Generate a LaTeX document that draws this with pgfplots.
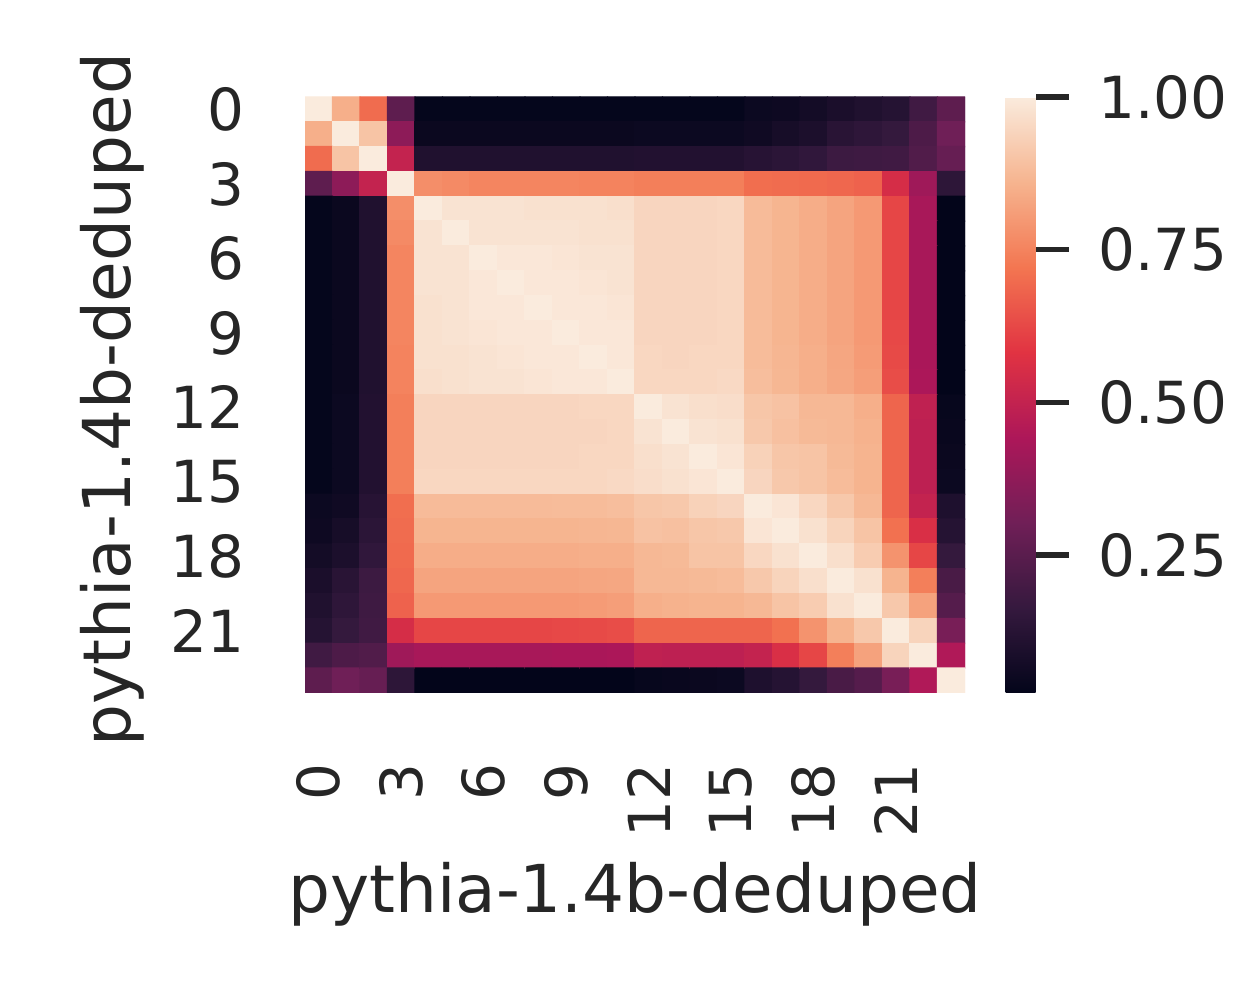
\documentclass[border=0pt]{standalone}
\usepackage{pgfplots}
\pgfplotsset{compat=1.18}
\usepackage{fontspec}
\setmainfont{DejaVu Sans}
\definecolor{txt}{HTML}{262626}
\pgfplotsset{colormap={rocket}{rgb255=(3,5,26) rgb255=(53,25,62) rgb255=(112,31,87) rgb255=(173,23,89) rgb255=(225,51,66) rgb255=(243,118,81) rgb255=(246,180,143) rgb255=(250,235,221)}}
\begin{document}
\begin{tikzpicture}
\path (0,0) rectangle (12.5cm,10cm);
\begin{axis}[
  at={(3.05cm,3.07cm)}, anchor=south west,
  scale only axis, width=6.6cm, height=5.96cm,
  xmin=-0.5, xmax=23.5, ymin=-0.5, ymax=23.5, y dir=reverse,
  enlargelimits=false,
  axis line style={draw=none},
  major tick length=0pt,
  xtick={0,3,...,21}, ytick={0,3,...,21},
  tick label style={font=\fontsize{16.5}{18}\selectfont, text=txt},
  /pgf/number format/assume math mode=true,
  xticklabel style={rotate=90, anchor=east, inner sep=0pt},
  yticklabel style={anchor=east, inner sep=0pt},
  xticklabel shift=0.7cm, yticklabel shift=0.6cm,
  xlabel={pythia-1.4b-deduped}, ylabel={pythia-1.4b-deduped},
  every axis x label/.style={at={(axis description cs:0.5,-0.2836)}, anchor=north, inner sep=0pt, font=\fontsize{18.8}{20}\selectfont, text=txt},
  every axis y label/.style={at={(axis description cs:-0.2424,0.492)}, anchor=south, rotate=90, inner sep=0pt, font=\fontsize{18.8}{20}\selectfont, text=txt},
  colormap name=rocket,
  point meta min=0.024, point meta max=1,
  colorbar,
  colorbar style={
    xshift=-0.06cm,
    scale only axis, width=0.3cm, height=5.96cm,
    axis line style={draw=none},
    ytick={0.25,0.5,0.75,1},
    ytick pos=right,
    yticklabel style={/pgf/number format/fixed, /pgf/number format/fixed zerofill, /pgf/number format/precision=2, anchor=west, inner sep=0pt},
    major tick length=0.33cm, tick align=outside,
    ytick style={line width=1.6pt, color=txt},
    yticklabel shift=0.29cm,
    tick label style={font=\fontsize{16.5}{18}\selectfont, text=txt},
    /pgf/number format/assume math mode=true,
  },
]
\addplot[matrix plot*, mesh/cols=24, point meta=explicit]
table[row sep=\\, x expr={\coordindex-24*floor((\coordindex+0.5)/24)}, y expr={floor((\coordindex+0.5)/24)}, meta=c] {
c\\
1\\ 0.85\\ 0.70\\ 0.26\\ 0.03\\ 0.03\\ 0.03\\ 0.03\\ 0.03\\ 0.03\\ 0.03\\ 0.03\\ 0.03\\ 0.03\\ 0.03\\ 0.03\\ 0.05\\ 0.055\\ 0.07\\ 0.09\\ 0.105\\ 0.12\\ 0.19\\ 0.26\\
0.85\\ 1\\ 0.90\\ 0.37\\ 0.045\\ 0.045\\ 0.045\\ 0.045\\ 0.045\\ 0.045\\ 0.045\\ 0.045\\ 0.05\\ 0.05\\ 0.05\\ 0.05\\ 0.06\\ 0.08\\ 0.095\\ 0.13\\ 0.145\\ 0.16\\ 0.22\\ 0.30\\
0.70\\ 0.90\\ 1\\ 0.50\\ 0.105\\ 0.105\\ 0.105\\ 0.105\\ 0.105\\ 0.105\\ 0.105\\ 0.105\\ 0.11\\ 0.11\\ 0.11\\ 0.11\\ 0.125\\ 0.135\\ 0.15\\ 0.18\\ 0.185\\ 0.19\\ 0.23\\ 0.28\\
0.26\\ 0.37\\ 0.50\\ 1\\ 0.775\\ 0.765\\ 0.755\\ 0.755\\ 0.755\\ 0.755\\ 0.75\\ 0.75\\ 0.74\\ 0.74\\ 0.74\\ 0.74\\ 0.705\\ 0.70\\ 0.695\\ 0.69\\ 0.68\\ 0.55\\ 0.41\\ 0.14\\
0.03\\ 0.045\\ 0.105\\ 0.775\\ 1\\ 0.98\\ 0.98\\ 0.98\\ 0.975\\ 0.975\\ 0.975\\ 0.97\\ 0.945\\ 0.945\\ 0.945\\ 0.95\\ 0.878\\ 0.862\\ 0.845\\ 0.825\\ 0.80\\ 0.62\\ 0.43\\ 0.025\\
0.03\\ 0.045\\ 0.105\\ 0.765\\ 0.98\\ 1\\ 0.98\\ 0.98\\ 0.98\\ 0.98\\ 0.975\\ 0.975\\ 0.945\\ 0.945\\ 0.945\\ 0.95\\ 0.878\\ 0.862\\ 0.845\\ 0.825\\ 0.80\\ 0.62\\ 0.43\\ 0.025\\
0.03\\ 0.045\\ 0.105\\ 0.755\\ 0.98\\ 0.98\\ 1\\ 0.99\\ 0.99\\ 0.985\\ 0.98\\ 0.98\\ 0.945\\ 0.945\\ 0.945\\ 0.95\\ 0.878\\ 0.862\\ 0.845\\ 0.825\\ 0.80\\ 0.62\\ 0.43\\ 0.025\\
0.03\\ 0.045\\ 0.105\\ 0.755\\ 0.98\\ 0.98\\ 0.99\\ 1\\ 0.99\\ 0.99\\ 0.985\\ 0.98\\ 0.945\\ 0.945\\ 0.945\\ 0.95\\ 0.878\\ 0.862\\ 0.845\\ 0.825\\ 0.80\\ 0.62\\ 0.43\\ 0.025\\
0.03\\ 0.045\\ 0.105\\ 0.755\\ 0.975\\ 0.98\\ 0.99\\ 0.99\\ 1\\ 0.99\\ 0.99\\ 0.985\\ 0.945\\ 0.945\\ 0.945\\ 0.95\\ 0.878\\ 0.862\\ 0.845\\ 0.825\\ 0.80\\ 0.62\\ 0.43\\ 0.025\\
0.03\\ 0.045\\ 0.105\\ 0.755\\ 0.975\\ 0.98\\ 0.985\\ 0.99\\ 0.99\\ 1\\ 0.99\\ 0.99\\ 0.945\\ 0.945\\ 0.945\\ 0.95\\ 0.88\\ 0.862\\ 0.845\\ 0.825\\ 0.80\\ 0.625\\ 0.435\\ 0.025\\
0.03\\ 0.045\\ 0.105\\ 0.75\\ 0.975\\ 0.975\\ 0.98\\ 0.985\\ 0.99\\ 0.99\\ 1\\ 0.99\\ 0.95\\ 0.945\\ 0.95\\ 0.95\\ 0.88\\ 0.865\\ 0.848\\ 0.828\\ 0.805\\ 0.63\\ 0.435\\ 0.025\\
0.03\\ 0.045\\ 0.105\\ 0.75\\ 0.97\\ 0.975\\ 0.98\\ 0.98\\ 0.985\\ 0.99\\ 0.99\\ 1\\ 0.95\\ 0.95\\ 0.95\\ 0.955\\ 0.885\\ 0.868\\ 0.85\\ 0.83\\ 0.81\\ 0.635\\ 0.44\\ 0.025\\
0.03\\ 0.05\\ 0.11\\ 0.74\\ 0.945\\ 0.945\\ 0.945\\ 0.945\\ 0.945\\ 0.945\\ 0.95\\ 0.95\\ 1\\ 0.98\\ 0.97\\ 0.965\\ 0.905\\ 0.895\\ 0.87\\ 0.87\\ 0.85\\ 0.685\\ 0.49\\ 0.035\\
0.03\\ 0.05\\ 0.11\\ 0.74\\ 0.945\\ 0.945\\ 0.945\\ 0.945\\ 0.945\\ 0.945\\ 0.945\\ 0.95\\ 0.98\\ 1\\ 0.98\\ 0.975\\ 0.91\\ 0.89\\ 0.875\\ 0.87\\ 0.855\\ 0.685\\ 0.485\\ 0.04\\
0.03\\ 0.05\\ 0.11\\ 0.74\\ 0.945\\ 0.945\\ 0.945\\ 0.945\\ 0.945\\ 0.945\\ 0.95\\ 0.95\\ 0.97\\ 0.98\\ 1\\ 0.985\\ 0.935\\ 0.905\\ 0.90\\ 0.875\\ 0.86\\ 0.685\\ 0.485\\ 0.045\\
0.03\\ 0.05\\ 0.11\\ 0.74\\ 0.95\\ 0.95\\ 0.95\\ 0.95\\ 0.95\\ 0.95\\ 0.95\\ 0.955\\ 0.965\\ 0.975\\ 0.985\\ 1\\ 0.945\\ 0.91\\ 0.90\\ 0.88\\ 0.86\\ 0.685\\ 0.485\\ 0.05\\
0.05\\ 0.06\\ 0.125\\ 0.705\\ 0.878\\ 0.878\\ 0.878\\ 0.878\\ 0.878\\ 0.88\\ 0.88\\ 0.885\\ 0.905\\ 0.91\\ 0.935\\ 0.945\\ 1\\ 0.985\\ 0.95\\ 0.91\\ 0.87\\ 0.685\\ 0.50\\ 0.10\\
0.055\\ 0.08\\ 0.135\\ 0.70\\ 0.862\\ 0.862\\ 0.862\\ 0.862\\ 0.862\\ 0.862\\ 0.865\\ 0.868\\ 0.895\\ 0.89\\ 0.905\\ 0.91\\ 0.985\\ 1\\ 0.975\\ 0.94\\ 0.90\\ 0.71\\ 0.56\\ 0.12\\
0.07\\ 0.095\\ 0.15\\ 0.695\\ 0.845\\ 0.845\\ 0.845\\ 0.845\\ 0.845\\ 0.845\\ 0.848\\ 0.85\\ 0.87\\ 0.875\\ 0.90\\ 0.90\\ 0.95\\ 0.975\\ 1\\ 0.97\\ 0.92\\ 0.785\\ 0.62\\ 0.16\\
0.09\\ 0.13\\ 0.18\\ 0.69\\ 0.825\\ 0.825\\ 0.825\\ 0.825\\ 0.825\\ 0.825\\ 0.828\\ 0.83\\ 0.87\\ 0.87\\ 0.875\\ 0.88\\ 0.91\\ 0.94\\ 0.97\\ 1\\ 0.975\\ 0.86\\ 0.74\\ 0.21\\
0.105\\ 0.145\\ 0.185\\ 0.68\\ 0.80\\ 0.80\\ 0.80\\ 0.80\\ 0.80\\ 0.80\\ 0.805\\ 0.81\\ 0.85\\ 0.855\\ 0.86\\ 0.86\\ 0.87\\ 0.90\\ 0.92\\ 0.975\\ 1\\ 0.91\\ 0.82\\ 0.24\\
0.12\\ 0.16\\ 0.19\\ 0.55\\ 0.62\\ 0.62\\ 0.62\\ 0.62\\ 0.62\\ 0.625\\ 0.63\\ 0.635\\ 0.685\\ 0.685\\ 0.685\\ 0.685\\ 0.685\\ 0.71\\ 0.785\\ 0.86\\ 0.91\\ 1\\ 0.94\\ 0.32\\
0.19\\ 0.22\\ 0.23\\ 0.41\\ 0.43\\ 0.43\\ 0.43\\ 0.43\\ 0.43\\ 0.435\\ 0.435\\ 0.44\\ 0.49\\ 0.485\\ 0.485\\ 0.485\\ 0.50\\ 0.56\\ 0.62\\ 0.74\\ 0.82\\ 0.94\\ 1\\ 0.45\\
0.26\\ 0.30\\ 0.28\\ 0.14\\ 0.025\\ 0.025\\ 0.025\\ 0.025\\ 0.025\\ 0.025\\ 0.025\\ 0.025\\ 0.035\\ 0.04\\ 0.045\\ 0.05\\ 0.10\\ 0.12\\ 0.16\\ 0.21\\ 0.24\\ 0.32\\ 0.45\\ 1\\
};
\end{axis}
\end{tikzpicture}
\end{document}
